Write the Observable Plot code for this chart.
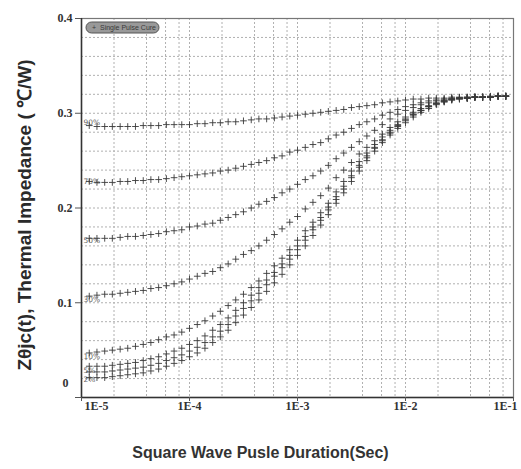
<!DOCTYPE html>
<html><head><meta charset="utf-8">
<script src="https://cdn.jsdelivr.net/npm/d3@7"></script>
<script src="https://cdn.jsdelivr.net/npm/@observablehq/plot@0.6"></script>
<style>body{margin:0;background:#fff}</style>
</head><body><div id="chart"></div>
<script>
// Pulse durations (s)
const durations = [
  1.18e-5,1.39e-5,1.64e-5,1.93e-5,2.28e-5,2.68e-5,3.16e-5,3.73e-5,4.39e-5,5.18e-5,6.11e-5,7.2e-5,8.48e-5,1e-4,
  1.18e-4,1.39e-4,1.64e-4,1.93e-4,2.28e-4,2.68e-4,3.16e-4,3.73e-4,4.39e-4,5.18e-4,6.11e-4,7.2e-4,8.48e-4,1e-3,
  1.18e-3,1.39e-3,1.64e-3,1.93e-3,2.28e-3,2.68e-3,3.16e-3,3.73e-3,4.39e-3,5.18e-3,6.11e-3,7.2e-3,8.48e-3,1e-2,
  1.18e-2,1.39e-2,1.64e-2,1.93e-2,2.28e-2,2.68e-2,3.16e-2,3.73e-2,4.39e-2,5.18e-2,6.11e-2,7.2e-2,8.48e-2
];
const seriesNames = ["90%","70%","50%","30%","10%","5%","2%","Single Pulse"];
const z90 = [0.287,0.286,0.286,0.286,0.286,0.286,0.286,0.287,0.287,0.287,0.288,0.288,0.288,0.288,
  0.289,0.289,0.290,0.290,0.291,0.291,0.292,0.293,0.294,0.294,0.295,0.296,0.297,0.298,
  0.299,0.300,0.301,0.302,0.303,0.304,0.306,0.307,0.308,0.309,0.311,0.312,0.313,0.314,
  0.315,0.315,0.316,0.316,0.316,0.317,0.317,0.317,0.317,0.317,0.318,0.318,0.318];
const z70 = [0.228,0.227,0.227,0.227,0.228,0.228,0.229,0.229,0.230,0.230,0.231,0.232,0.233,0.234,
  0.235,0.236,0.237,0.239,0.240,0.242,0.244,0.246,0.248,0.250,0.253,0.255,0.259,0.261,
  0.264,0.267,0.269,0.273,0.277,0.280,0.284,0.288,0.291,0.294,0.298,0.301,0.304,0.307,
  0.309,0.311,0.313,0.314,0.315,0.316,0.316,0.317,0.317,0.317,0.317,0.318,0.318];
const z50 = [0.168,0.168,0.168,0.168,0.169,0.170,0.170,0.171,0.172,0.173,0.175,0.176,0.177,0.180,
  0.181,0.183,0.184,0.187,0.190,0.193,0.196,0.200,0.204,0.207,0.211,0.216,0.220,0.225,
  0.230,0.234,0.239,0.245,0.252,0.258,0.264,0.270,0.276,0.282,0.288,0.294,0.299,0.303,
  0.306,0.309,0.311,0.313,0.314,0.315,0.316,0.316,0.317,0.317,0.317,0.318,0.318];
const z30 = [0.107,0.108,0.109,0.109,0.110,0.111,0.112,0.113,0.115,0.116,0.118,0.120,0.122,0.125,
  0.128,0.131,0.133,0.137,0.141,0.146,0.151,0.155,0.160,0.166,0.172,0.178,0.185,0.191,
  0.199,0.206,0.213,0.221,0.232,0.240,0.248,0.257,0.264,0.271,0.278,0.285,0.291,0.296,
  0.301,0.305,0.308,0.311,0.313,0.315,0.316,0.316,0.317,0.317,0.317,0.318,0.318];
const z10 = [0.047,0.048,0.049,0.050,0.051,0.052,0.054,0.056,0.058,0.061,0.064,0.066,0.069,0.073,
  0.077,0.081,0.086,0.091,0.097,0.103,0.109,0.116,0.123,0.131,0.139,0.147,0.156,0.166,
  0.176,0.185,0.195,0.205,0.217,0.228,0.239,0.249,0.258,0.267,0.275,0.282,0.288,0.294,
  0.299,0.303,0.307,0.310,0.312,0.314,0.315,0.316,0.317,0.317,0.317,0.318,0.318];
const z5 = [0.033,0.033,0.033,0.034,0.035,0.036,0.037,0.039,0.041,0.043,0.046,0.049,0.052,0.056,
  0.060,0.065,0.071,0.077,0.084,0.092,0.100,0.108,0.116,0.124,0.132,0.141,0.150,0.160,
  0.170,0.180,0.190,0.201,0.212,0.223,0.234,0.245,0.255,0.264,0.272,0.280,0.287,0.293,
  0.299,0.303,0.307,0.310,0.313,0.315,0.316,0.316,0.317,0.317,0.317,0.318,0.318];
const z2 = [0.027,0.027,0.027,0.028,0.029,0.030,0.031,0.032,0.034,0.036,0.039,0.042,0.045,0.049,
  0.053,0.058,0.064,0.070,0.077,0.086,0.094,0.102,0.110,0.119,0.128,0.137,0.146,0.156,
  0.166,0.177,0.187,0.198,0.209,0.220,0.232,0.243,0.253,0.263,0.271,0.279,0.286,0.292,
  0.298,0.303,0.307,0.310,0.313,0.315,0.316,0.316,0.317,0.317,0.317,0.318,0.318];
const zSingle = [0.021,0.021,0.021,0.022,0.023,0.024,0.025,0.026,0.028,0.030,0.033,0.036,0.039,0.043,
  0.047,0.052,0.058,0.064,0.071,0.079,0.087,0.095,0.103,0.112,0.121,0.130,0.140,0.150,
  0.160,0.171,0.182,0.193,0.205,0.216,0.228,0.239,0.250,0.260,0.269,0.277,0.284,0.290,
  0.296,0.301,0.305,0.309,0.312,0.314,0.315,0.316,0.317,0.317,0.317,0.318,0.318];
const seriesValues = [z90,z70,z50,z30,z10,z5,z2,zSingle];

// Duty-cycle label levels
const dutyLabels = ["90%","70%","50%","30%","10%","5%","2%"];
const dutyLabelLevel = [0.290,0.228,0.166,0.103,0.043,0.028,0.019];

const xTicks = [1e-5,1e-4,1e-3,1e-2,1e-1];
const xTickLabels = ["1E-5","1E-4","1E-3","1E-2","1E-1"];
const yTicks = [0,0.1,0.2,0.3,0.4];
const yTickLabels = ["0","0.1","0.2","0.3","0.4"];
const xGrid = [2e-5,4e-5,6e-5,8e-5,1e-4,2e-4,4e-4,6e-4,8e-4,1e-3,2e-3,4e-3,6e-3,8e-3,1e-2,2e-2,4e-2,6e-2,8e-2];
const yGrid = [0.02,0.04,0.06,0.08,0.1,0.12,0.14,0.16,0.18,0.2,0.22,0.24,0.26,0.28,0.3,0.32,0.34,0.36,0.38];

const yTitle = "Zθjc(t), Thermal Impedance ( ℃/W)";
const xTitle = "Square Wave Pusle Duration(Sec)";
const legendText = "+  Single Pulse Cure";

const rows = [];
seriesValues.forEach((vals, i) => vals.forEach((v, j) => rows.push({t: durations[j], z: v, s: seriesNames[i]})));
const labelRows = dutyLabels.map((d, i) => ({t: 1e-5, z: dutyLabelLevel[i], label: d}));
const xLab = xTicks.map((t, i) => ({t, label: xTickLabels[i]}));
const yLab = yTicks.map((v, i) => ({v, label: yTickLabels[i]}));

const tickFont = "'Liberation Serif', serif";
const plot = Plot.plot({
  width: 521, height: 469,
  marginLeft: 81, marginRight: 8, marginTop: 18, marginBottom: 72,
  x: {type: "log", domain: [1e-5, 1e-1]},
  y: {domain: [0, 0.4]},
  style: {background: "#fff", overflow: "visible"},
  marks: [
    Plot.ruleX(xGrid, {stroke: "#b0b0b0", strokeDasharray: "2,2", strokeWidth: 1}),
    Plot.ruleY(yGrid, {stroke: "#b0b0b0", strokeDasharray: "2,2", strokeWidth: 1}),
    Plot.frame({stroke: "#777", strokeWidth: 1.2}),
    Plot.ruleX([1e-5], {stroke: "#333", strokeWidth: 1.5}),
    Plot.ruleY([0], {stroke: "#333", strokeWidth: 1.5}),
    Plot.axisX({ticks: xTicks, tickSize: 4, tickFormat: () => "", label: null, stroke: "#555"}),
    Plot.axisY({ticks: yTicks, tickSize: 6, tickFormat: () => "", label: null, stroke: "#555"}),
    // x tick labels
    Plot.text(xLab.slice(0, 1), {x: "t", text: "label", frameAnchor: "bottom", dy: 12, textAnchor: "start", dx: 3, fontSize: 12, fontWeight: "bold", fontFamily: tickFont, fill: "#333"}),
    Plot.text(xLab.slice(1, 4), {x: "t", text: "label", frameAnchor: "bottom", dy: 12, fontSize: 12, fontWeight: "bold", fontFamily: tickFont, fill: "#333"}),
    Plot.text(xLab.slice(4), {x: "t", text: "label", frameAnchor: "bottom", dy: 12, textAnchor: "end", dx: 4, fontSize: 12, fontWeight: "bold", fontFamily: tickFont, fill: "#333"}),
    // y tick labels
    Plot.text(yLab.slice(1), {y: "v", text: "label", frameAnchor: "left", dx: -9, textAnchor: "end", fontSize: 12, fontWeight: "bold", fontFamily: tickFont, fill: "#333"}),
    Plot.text(yLab.slice(0, 1), {y: "v", text: "label", frameAnchor: "left", dx: -13, dy: -14, textAnchor: "end", fontSize: 12, fontWeight: "bold", fontFamily: tickFont, fill: "#333"}),
    // duty labels
    Plot.text(labelRows, {x: "t", y: "z", text: "label", dx: 2, textAnchor: "start", fontSize: 7.5, fill: "#666", fontFamily: "'DejaVu Sans', sans-serif"}),
    // data points
    Plot.dot(rows, {x: "t", y: "z", symbol: "plus", r: 2.3, stroke: "#3a3a3a", strokeWidth: 0.9}),
    // axis titles
    Plot.text([yTitle], {frameAnchor: "left", dx: -57, dy: 7, rotate: -90, textAnchor: "middle", fontSize: 19, fontWeight: "bold", fill: "#2a2a2a", fontFamily: "'Liberation Sans', Arial, sans-serif"}),
    Plot.text([xTitle], {frameAnchor: "bottom", dx: -37, dy: 60, textAnchor: "middle", fontSize: 16, fontWeight: "bold", fill: "#333", fontFamily: "'Liberation Sans', Arial, sans-serif"})
  ]
});

// legend pill
const svg = d3.select(plot);
const lg = svg.append("g").attr("text-anchor", "start");
lg.append("rect").attr("x", 86).attr("y", 22).attr("width", 73).attr("height", 11).attr("rx", 5.5)
  .attr("fill", "#999").attr("stroke", "#555").attr("stroke-width", 1);
lg.append("text").attr("x", 92).attr("y", 30).attr("font-size", 7).attr("fill", "#3a3a3a")
  .attr("font-family", "'Liberation Sans', sans-serif").text(legendText);

document.getElementById("chart").appendChild(plot);
</script>
</body></html>
